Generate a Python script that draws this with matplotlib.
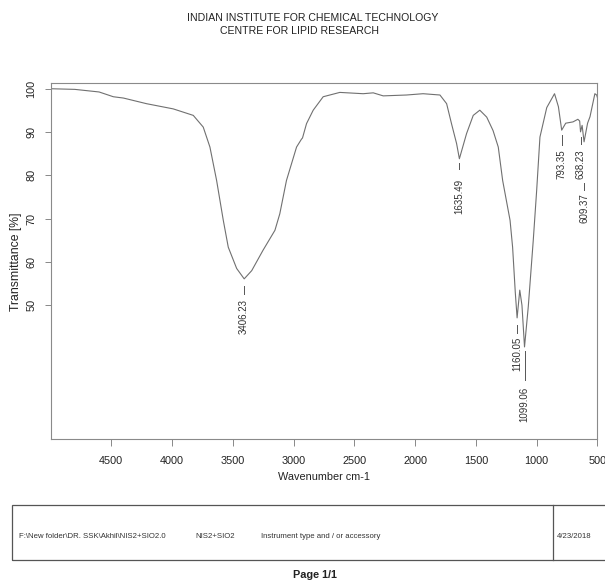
import numpy as np
import matplotlib.pyplot as plt
from matplotlib.patches import Rectangle
from matplotlib.lines import Line2D
from matplotlib.transforms import offset_copy

plt.rcParams['font.family'] = ['Liberation Sans', 'DejaVu Sans']

# spectrum (wavenumber cm-1, transmittance %)
wavenumber = [5000, 4800, 4600, 4483, 4400, 4210, 3990, 3825, 3743, 3688, 3633, 3578,
              3537, 3468, 3406, 3344, 3251, 3153, 3113, 3058, 2975, 2935, 2926, 2893,
              2838, 2756, 2619, 2427, 2344, 2262, 2070, 1934, 1795, 1740, 1700, 1658,
              1635, 1576, 1521, 1467, 1410, 1358, 1315, 1279, 1218, 1197, 1175, 1160,
              1138, 1120, 1099, 1068, 1027, 999, 972, 916, 852, 820, 793, 760, 700,
              660, 645, 638, 625, 609, 580, 560, 520, 505, 500]
transmittance = [99.95, 99.8, 99.2, 98.1, 97.8, 96.5, 95.3, 93.8, 91.1, 86.5, 78.8, 69.6,
                 63.4, 58.5, 56.1, 58.0, 62.7, 67.3, 71.1, 78.8, 86.5, 88.3, 88.6, 91.9,
                 95.0, 98.1, 99.1, 98.8, 99.0, 98.3, 98.5, 98.8, 98.5, 96.5, 91.9, 87.3,
                 83.8, 89.6, 93.8, 95.0, 93.4, 90.3, 86.5, 78.8, 69.6, 63.4, 53.0, 47.1,
                 53.5, 50.0, 40.4, 49.7, 65.0, 76.5, 88.8, 95.6, 98.8, 95.8, 90.4, 92.0, 92.3,
                 92.9, 92.5, 90.0, 91.5, 87.7, 92.0, 93.5, 98.8, 98.5, 98.0]

peak_wn = [3406.23, 1635.49, 1160.05, 1099.06, 793.35, 638.23, 609.37]
peak_T = [56.1, 83.8, 47.1, 40.4, 90.4, 90.0, 87.7]
peak_labels = ['3406.23', '1635.49', '1160.05', '1099.06', '793.35', '638.23', '609.37']

x_ticks = [4500, 4000, 3500, 3000, 2500, 2000, 1500, 1000, 500]
y_ticks = [50, 60, 70, 80, 90, 100]

W, H = 605, 581
fig = plt.figure(figsize=(W / 100, H / 100), dpi=100)
ax = fig.add_axes([50.5 / W, 1 - 439.3 / H, (597.3 - 50.5) / W, (439.3 - 83.3) / H])

line_col = '#707070'
ax.plot(wavenumber, transmittance, color=line_col, lw=0.8)
ax.set_xlim(5000, 500)
ax.set_ylim(19.1, 101.2)

ax.set_xticks(x_ticks)
ax.set_xticklabels([str(v) for v in x_ticks])
ax.set_yticks(y_ticks)
ax.set_yticklabels([str(v) for v in y_ticks], rotation=90, va='center')
ax.tick_params(axis='x', length=5, width=0.7, color='#888888', pad=7, labelsize=7.8, labelcolor='#222222')
ax.tick_params(axis='y', length=4, width=0.7, color='#888888', pad=6, labelsize=7.8, labelcolor='#222222')
for s in ax.spines.values():
    s.set_color('#8a8a8a')
    s.set_linewidth(0.8)

ax.set_xlabel('Wavenumber cm-1', fontsize=7.8, color='#222222', labelpad=4)
ax.set_ylabel('Transmittance [%]', fontsize=8.8, color='#222222', labelpad=3)

# peak markers: (dash start, dash end, text top) in pixels below the peak
offsets = [(7, 15, 20), (4, 10, 20), (7, 15, 19), (4, 33, 40), (5, 15, 19), (5, 12, 18), (41, 48, 51)]
for wn, t, lab, (d0, d1, tt) in zip(peak_wn, peak_T, peak_labels, offsets):
    tr0 = offset_copy(ax.transData, fig=fig, x=0, y=-d0 * 0.72, units='points')
    tr1 = offset_copy(ax.transData, fig=fig, x=0, y=-d1 * 0.72, units='points')
    p0 = tr0.transform((wn, t))
    p1 = tr1.transform((wn, t))
    ax.add_artist(Line2D([p0[0], p1[0]], [p0[1], p1[1]], transform=None,
                         color='#555555', lw=0.7))
    trt = offset_copy(ax.transData, fig=fig, x=0, y=-tt * 0.72, units='points')
    ax.text(wn, t, lab, transform=trt, rotation=90, ha='center', va='top',
            fontsize=7, color='#333333')

# header
fig.text(313 / W, 1 - 18 / H, 'INDIAN INSTITUTE FOR CHEMICAL TECHNOLOGY', ha='center', va='center',
         fontsize=7.6, color='#222222')
fig.text(300 / W, 1 - 31 / H, 'CENTRE FOR LIPID RESEARCH', ha='center', va='center',
         fontsize=7.6, color='#222222')

# footer box
fig.add_artist(Rectangle((12.3 / W, 1 - 560 / H), 1.02 - 12.3 / W, 55 / H, transform=fig.transFigure,
                         fill=False, edgecolor='#555555', lw=0.9, clip_on=False))
fig.add_artist(Line2D([553.3 / W, 553.3 / W], [1 - 560 / H, 1 - 505 / H], transform=fig.transFigure,
                      color='#555555', lw=0.9))
fy = 1 - 536 / H
fig.text(19 / W, fy, 'F:\\New folder\\DR. SSK\\Akhil\\NIS2+SIO2.0', fontsize=5.6, va='center', color='#333333')
fig.text(195 / W, fy, 'NIS2+SIO2', fontsize=5.6, va='center', color='#333333')
fig.text(261 / W, fy, 'Instrument type and / or accessory', fontsize=5.6, va='center', color='#333333')
fig.text(557 / W, fy, '4/23/2018', fontsize=5.6, va='center', color='#333333')
fig.text(315 / W, 1 - 575 / H, 'Page 1/1', fontsize=7.8, fontweight='bold', ha='center', va='center',
         color='#222222')

fig.savefig('out.png', dpi=100)
